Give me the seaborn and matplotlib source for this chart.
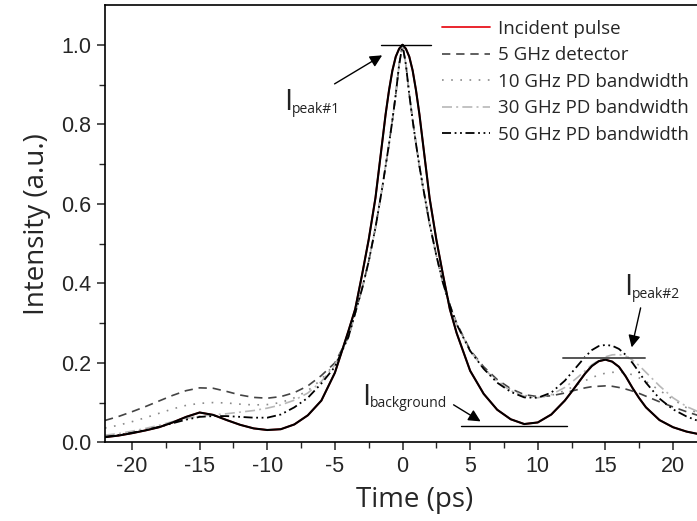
import matplotlib
matplotlib.use('Agg')
import matplotlib.pyplot as plt
import seaborn as sns

# tiempo (ps) y las curvas
tiempo = [-22, -21, -20, -19, -18, -17, -16, -15, -14, -13, -12, -11, -10, -9, -8, -7, -6, -5, -4,
          -3.5, -3, -2.5, -2, -1.5,
          -1.25, -1, -0.75, -0.5, -0.25, 0, 0.25, 0.5, 0.75, 1, 1.25,
          1.5, 2, 2.5, 3, 3.5,
          4, 5, 6, 7, 8, 9, 10, 11, 12,
          12.5, 13, 13.5, 14, 14.5, 15, 15.5, 16, 16.5, 17, 17.5,
          18, 19, 20, 21, 22]

incidente = [0.013, 0.017, 0.023, 0.030, 0.038, 0.050, 0.064, 0.075, 0.069, 0.056, 0.044, 0.035, 0.031, 0.033, 0.045, 0.068, 0.105, 0.175, 0.28,
             0.335, 0.42, 0.51, 0.615, 0.755,
             0.825, 0.885, 0.935, 0.97, 0.99, 1.0, 0.99, 0.97, 0.935, 0.885, 0.825,
             0.755, 0.615, 0.51, 0.42, 0.335,
             0.275, 0.18, 0.122, 0.082, 0.058, 0.046, 0.05, 0.07, 0.105,
             0.127, 0.15, 0.173, 0.192, 0.204, 0.208, 0.203, 0.19, 0.166, 0.137, 0.111,
             0.088, 0.056, 0.038, 0.027, 0.02]

det_5ghz = [0.055, 0.065, 0.077, 0.09, 0.104, 0.118, 0.13, 0.137, 0.136, 0.128, 0.119, 0.113, 0.111, 0.115, 0.125, 0.142, 0.168, 0.2, 0.265,
            0.325, 0.385, 0.455, 0.54, 0.64,
            0.695, 0.75, 0.81, 0.875, 0.95, 1.0, 0.95, 0.875, 0.81, 0.75, 0.695,
            0.645, 0.55, 0.47, 0.4, 0.345,
            0.3, 0.232, 0.19, 0.158, 0.135, 0.12, 0.115, 0.117, 0.124,
            0.129, 0.133, 0.137, 0.14, 0.141, 0.142, 0.141, 0.138, 0.134, 0.129, 0.123,
            0.116, 0.102, 0.089, 0.077, 0.066]

pd_10ghz = [0.036, 0.043, 0.052, 0.062, 0.073, 0.084, 0.093, 0.098, 0.1, 0.099, 0.096, 0.094, 0.095, 0.1, 0.112, 0.13, 0.158, 0.198, 0.265,
            0.325, 0.385, 0.455, 0.54, 0.64,
            0.695, 0.75, 0.81, 0.875, 0.95, 1.0, 0.95, 0.875, 0.81, 0.75, 0.695,
            0.645, 0.55, 0.47, 0.4, 0.345,
            0.298, 0.23, 0.186, 0.155, 0.132, 0.118, 0.113, 0.118, 0.13,
            0.138, 0.147, 0.155, 0.163, 0.169, 0.174, 0.176, 0.177, 0.175, 0.17, 0.162,
            0.153, 0.131, 0.108, 0.087, 0.07]

pd_30ghz = [0.018, 0.022, 0.028, 0.035, 0.043, 0.052, 0.06, 0.066, 0.069, 0.072, 0.076, 0.08, 0.086, 0.094, 0.106, 0.124, 0.153, 0.195, 0.265,
            0.325, 0.385, 0.455, 0.54, 0.64,
            0.695, 0.75, 0.81, 0.875, 0.95, 1.0, 0.95, 0.875, 0.81, 0.75, 0.695,
            0.645, 0.55, 0.47, 0.4, 0.345,
            0.297, 0.23, 0.186, 0.153, 0.13, 0.116, 0.112, 0.12, 0.138,
            0.151, 0.165, 0.18, 0.195, 0.206, 0.215, 0.22, 0.221, 0.217, 0.207, 0.193,
            0.176, 0.142, 0.112, 0.09, 0.075]

pd_50ghz = [0.014, 0.018, 0.024, 0.031, 0.039, 0.048, 0.057, 0.064, 0.066, 0.066, 0.064, 0.062, 0.062, 0.07, 0.088, 0.112, 0.148, 0.19, 0.265,
            0.325, 0.385, 0.455, 0.54, 0.64,
            0.695, 0.75, 0.81, 0.875, 0.95, 1.0, 0.95, 0.875, 0.81, 0.75, 0.695,
            0.645, 0.55, 0.47, 0.4, 0.345,
            0.297, 0.23, 0.185, 0.15, 0.127, 0.113, 0.112, 0.125, 0.155,
            0.175, 0.195, 0.215, 0.232, 0.242, 0.245, 0.243, 0.235, 0.22, 0.2, 0.176,
            0.15, 0.11, 0.083, 0.065, 0.052]

etiquetas = ['Incident pulse', '5 GHz detector', '10 GHz PD bandwidth',
             '30 GHz PD bandwidth', '50 GHz PD bandwidth']

sns.set_style('ticks')
plt.rcParams['font.family'] = ['Open Sans', 'DejaVu Sans']
plt.rcParams['axes.unicode_minus'] = False

fig = plt.figure(figsize=(6.97, 5.21), dpi=100)
ax = fig.add_axes([0.1506, 0.151, 0.8538, 0.8394])

# curvas
sns.lineplot(x=tiempo, y=incidente, ax=ax, color='#e8141c', lw=1.3, label=etiquetas[0])
sns.lineplot(x=tiempo, y=det_5ghz, ax=ax, color='#444444', lw=1.2,
             linestyle=(0, (5, 3.5)), label=etiquetas[1])
sns.lineplot(x=tiempo, y=pd_10ghz, ax=ax, color='#8a8a8a', lw=1.2,
             linestyle=(0, (1, 4.5)), label=etiquetas[2])
sns.lineplot(x=tiempo, y=pd_30ghz, ax=ax, color='#b8b8b8', lw=1.2,
             linestyle=(0, (6, 2.5, 1.2, 2.5)), label=etiquetas[3])
sns.lineplot(x=tiempo, y=pd_50ghz, ax=ax, color='black', lw=1.3,
             linestyle=(0, (5, 2, 1, 2, 1, 2)), label=etiquetas[4])
# el pulso incidente se ve en negro encima
sns.lineplot(x=tiempo, y=incidente, ax=ax, color='black', lw=1.5, legend=False)

# lineas horizontales y flechas de las anotaciones
ax.plot([-1.6, 2.1], [1.0, 1.0], color='black', lw=1.0)
ax.plot([4.3, 12.15], [0.042, 0.042], color='black', lw=1.0)
ax.plot([11.85, 17.9], [0.211, 0.211], color='#555555', lw=1.4)

flecha = dict(arrowstyle='-|>', color='black', lw=1.0, mutation_scale=18)
ax.annotate('', xy=(-1.33, 0.977), xytext=(-5.2, 0.898), arrowprops=flecha)
ax.annotate('', xy=(5.95, 0.049), xytext=(3.6, 0.098), arrowprops=flecha)
ax.annotate('', xy=(16.9, 0.232), xytext=(17.65, 0.345), arrowprops=flecha)

for (xi, yi, sub) in [(-8.73, 0.835, 'peak#1'), (-2.96, 0.094, 'background'), (16.42, 0.37, 'peak#2')]:
    ax.text(xi, yi, 'I', fontsize=21, ha='left', va='baseline', color='#222222')
    ax.text(xi + 0.55, yi - 0.006, sub, fontsize=10, ha='left', va='baseline', color='#222222')

# ejes
ax.set_xlim(-22, 22)
ax.set_ylim(0, 1.1)
ax.set_xticks(range(-20, 21, 5))
ax.set_xticks([i * 2.5 for i in range(-8, 9)], minor=True)
ax.set_yticks([0, 0.2, 0.4, 0.6, 0.8, 1.0])
ax.set_yticks([i / 10 for i in range(11)], minor=True)
ax.set_yticklabels(['0.0', '0.2', '0.4', '0.6', '0.8', '1.0'])
ax.tick_params(which='major', direction='out', length=6, width=1.1, labelsize=15.5, pad=4)
ax.tick_params(which='minor', direction='out', length=4, width=1.0)
for lab in ax.get_xticklabels() + ax.get_yticklabels():
    lab.set_family(['Liberation Sans', 'DejaVu Sans'])
for s in ax.spines.values():
    s.set_linewidth(1.2)
    s.set_color('black')

ax.set_xlabel('Time (ps)', fontsize=20, labelpad=0)
ax.set_ylabel('Intensity (a.u.)', fontsize=20, labelpad=7)
ax.xaxis.set_label_coords(0.52, -0.1)

ax.legend(loc='upper left', bbox_to_anchor=(0.6337, 0.962), bbox_transform=fig.transFigure,
          frameon=False, fontsize=13.5, handlelength=2.6, handletextpad=0.4,
          labelspacing=0.45, borderpad=0, borderaxespad=0)

fig.savefig('out.png', dpi=100)
